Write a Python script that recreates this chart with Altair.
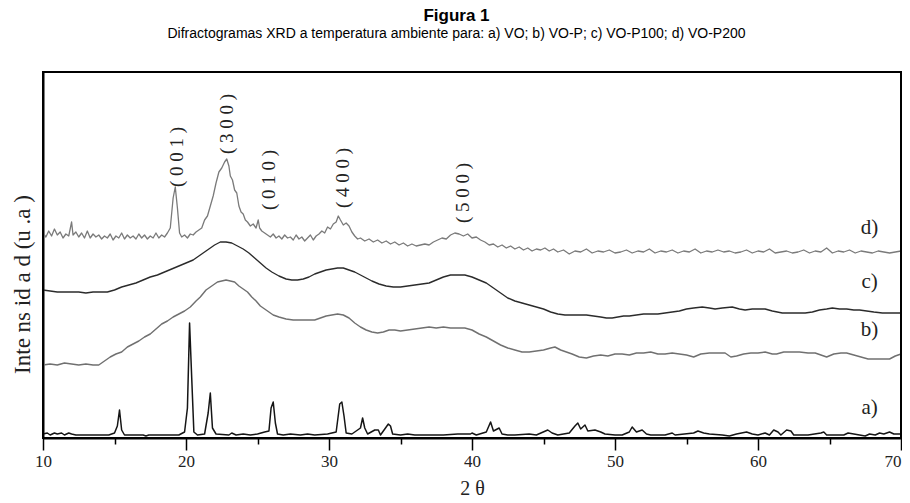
import altair as alt
import pandas as pd

# ---- data (2θ, intensity in arbitrary units) ----
a_x = [10.0, 10.3, 10.5, 10.8, 11.0, 11.3, 11.5, 11.8, 12.0, 12.3, 14.6, 15.0, 15.2, 15.35, 15.5, 15.7,
       17.0, 17.2, 17.4, 19.5, 19.9, 20.1, 20.25, 20.4, 20.55, 20.8, 21.3, 21.55, 21.7, 21.85, 22.1,
       23.0, 23.2, 23.5, 24.0, 24.5, 25.0, 25.5, 25.8, 25.95, 26.1, 26.25, 26.4, 26.8, 27.3, 28.0, 28.5,
       29.0, 29.9, 30.5, 30.75, 30.9, 31.05, 31.2, 31.6, 32.2, 32.35, 32.5, 32.7, 33.2, 33.45, 33.6,
       34.0, 34.15, 34.3, 34.45, 35.0, 35.5, 36.0, 37.0, 38.0, 39.0, 39.9, 40.0, 40.3, 41.0, 41.3, 41.5,
       41.9, 42.1, 42.5, 43.0, 44.0, 44.5, 45.3, 45.6, 46.0, 46.8, 47.2, 47.4, 47.6, 47.9, 48.1, 48.6,
       49.0, 49.3, 50.0, 50.5, 51.0, 51.2, 51.5, 51.9, 52.2, 52.5, 53.5, 54.0, 54.2, 55.5, 55.8, 56.2,
       56.6, 57.5, 58.0, 58.5, 59.2, 59.6, 60.0, 60.5, 60.8, 61.1, 61.4, 61.6, 62.0, 62.3, 62.5, 63.5,
       64.4, 64.6, 64.8, 66.0, 66.3, 66.7, 67.5, 67.8, 68.2, 68.5, 68.8, 69.2, 69.5, 70.0]
a_y = [4, 5, 3, 5, 4, 5, 3, 5, 4, 3, 3, 5, 12, 28, 8, 3,
       3, 2, 3, 3, 6, 30, 115, 60, 6, 3, 4, 25, 45, 10, 4,
       3, 5, 3, 4, 3, 4, 6, 7, 30, 36, 15, 4, 3, 4, 3, 4,
       3, 4, 6, 34, 36, 22, 5, 4, 10, 20, 10, 4, 8, 8, 3,
       11, 14, 12, 4, 3, 4, 3, 3, 3, 4, 4, 5, 3, 6, 16, 7,
       10, 4, 3, 3, 4, 3, 8, 5, 3, 5, 12, 15, 9, 13, 7, 8,
       6, 4, 3, 3, 6, 11, 6, 8, 4, 3, 3, 5, 3, 5, 7, 5,
       4, 3, 2, 4, 6, 4, 3, 5, 3, 8, 6, 3, 8, 7, 3, 3,
       5, 6, 3, 3, 5, 4, 2, 4, 3, 5, 4, 6, 4, 4]

b_x = [10.0, 10.5, 11.0, 11.5, 12.0, 12.5, 13.0, 13.5, 13.9, 14.3, 14.7, 15.1, 15.5, 15.9, 16.3, 16.7,
       17.1, 17.5, 17.9, 18.3, 18.7, 19.1, 19.5, 19.9, 20.3, 20.7, 21.0, 21.4, 21.8, 22.2, 22.5, 22.8,
       23.1, 23.4, 23.7, 24.0, 24.3, 24.6, 24.9, 25.2, 25.5, 25.8, 26.1, 26.5, 27.0, 27.5, 28.0, 28.5,
       29.0, 29.4, 29.8, 30.2, 30.6, 31.0, 31.4, 31.8, 32.2, 32.6, 33.0, 33.4, 33.8, 34.2, 34.6, 35.0,
       35.5, 36.0, 36.5, 37.0, 37.5, 38.0, 38.5, 39.0, 39.5, 40.0, 40.5, 41.0, 41.5, 42.0, 42.5, 43.0,
       43.5, 44.0, 44.5, 45.0, 45.5, 45.8, 46.2, 46.6, 47.0, 47.5, 48.0, 48.5, 49.0, 49.5, 50.0, 50.5,
       51.0, 51.5, 52.0, 52.5, 53.0, 53.5, 54.0, 54.5, 55.0, 55.5, 56.0, 56.6, 57.2, 57.7, 58.1, 58.5,
       59.0, 59.5, 60.0, 60.5, 61.0, 61.3, 61.8, 62.4, 62.9, 63.5, 64.0, 64.4, 64.8, 65.3, 65.8, 66.2,
       66.7, 67.2, 67.7, 68.2, 68.7, 69.2, 69.6, 70.0]
b_y = [73, 74, 73, 75, 74, 73, 74, 73, 73, 77, 81, 84, 86, 91, 94, 97,
       101, 104, 109, 114, 117, 121, 124, 127, 131, 137, 141, 148, 152, 156, 157, 158,
       157, 156, 152, 149, 146, 141, 137, 132, 129, 126, 123, 121, 119, 118, 118, 118,
       118, 120, 122, 123, 124, 123, 120, 115, 111, 108, 106, 105, 106, 108, 108, 107,
       108, 109, 110, 111, 110, 111, 110, 110, 110, 108, 104, 101, 97, 93, 90, 88,
       86, 86, 87, 88, 90, 91, 88, 86, 84, 81, 80, 82, 83, 82, 84, 84,
       83, 85, 85, 86, 84, 84, 85, 84, 83, 81, 84, 85, 85, 85, 81, 82,
       84, 85, 85, 86, 84, 84, 86, 86, 86, 85, 85, 83, 81, 84, 85, 85,
       83, 81, 79, 79, 79, 79, 82, 84]

c_x = [10.0, 10.5, 11.0, 11.5, 12.0, 12.5, 13.0, 13.5, 14.0, 14.5, 15.0, 15.5, 16.0, 16.5, 17.0, 17.5,
       18.0, 18.5, 19.0, 19.5, 20.0, 20.5, 21.0, 21.5, 22.0, 22.4, 22.8, 23.2, 23.6, 24.0, 24.4, 24.8,
       25.2, 25.6, 26.0, 26.5, 27.0, 27.4, 27.8, 28.2, 28.6, 29.0, 29.4, 29.8, 30.2, 30.6, 31.0, 31.4,
       31.8, 32.2, 32.6, 33.0, 33.5, 34.0, 34.5, 35.0, 35.5, 36.0, 36.5, 37.0, 37.5, 38.0, 38.5, 39.0,
       39.5, 40.0, 40.5, 41.0, 41.5, 42.0, 42.5, 43.0, 43.5, 44.0, 44.5, 45.0, 45.5, 46.0, 46.5, 47.0,
       47.5, 48.0, 48.5, 49.0, 49.4, 49.8, 50.2, 50.6, 51.0, 51.5, 52.0, 52.5, 53.0, 53.5, 54.0, 54.5,
       55.0, 55.5, 56.1, 56.6, 57.0, 57.5, 58.2, 58.7, 59.1, 59.6, 60.1, 60.5, 61.0, 61.7, 62.3, 62.8,
       63.3, 63.8, 64.3, 64.8, 65.2, 65.7, 66.2, 66.7, 67.1, 67.6, 68.1, 68.7, 69.3, 70.0]
c_y = [148, 147, 146, 146, 146, 146, 145, 146, 146, 146, 148, 151, 153, 155, 158, 161,
       163, 166, 169, 172, 175, 178, 183, 188, 193, 196, 196, 195, 192, 189, 185, 180,
       175, 170, 166, 162, 159, 158, 158, 159, 161, 164, 166, 168, 169, 170, 170, 168,
       166, 163, 160, 157, 154, 152, 151, 151, 152, 153, 154, 155, 158, 161, 163, 163,
       163, 161, 158, 155, 150, 145, 140, 137, 135, 133, 131, 129, 126, 124, 123, 123,
       123, 123, 122, 121, 120, 120, 121, 122, 122, 123, 124, 124, 124, 125, 126, 127,
       129, 130, 131, 130, 129, 130, 131, 129, 128, 129, 129, 129, 127, 125, 125, 125,
       125, 126, 128, 129, 130, 129, 129, 128, 128, 127, 126, 125, 125, 125]

d_x = [10.0, 10.2, 10.4, 10.6, 10.8, 11.0, 11.2, 11.4, 11.6, 11.8, 12.0, 12.1, 12.3, 12.5, 12.7, 12.9,
       13.1, 13.3, 13.5, 13.7, 13.9, 14.1, 14.3, 14.5, 14.7, 14.9, 15.1, 15.3, 15.5, 15.7, 15.9, 16.1,
       16.3, 16.5, 16.7, 16.9, 17.1, 17.3, 17.5, 17.7, 17.9, 18.1, 18.3, 18.5, 18.7, 18.9, 19.1, 19.25,
       19.4, 19.55, 19.7, 19.9, 20.1, 20.3, 20.5, 20.7, 20.9, 21.1, 21.3, 21.5, 21.7, 21.9, 22.1, 22.3,
       22.5, 22.7, 22.85, 23.0, 23.1, 23.25, 23.4, 23.55, 23.7, 23.85, 24.0, 24.15, 24.3, 24.5, 24.7, 24.9,
       25.05, 25.15, 25.3, 25.5, 25.7, 25.9, 26.1, 26.3, 26.5, 26.7, 26.9, 27.1, 27.3, 27.5, 27.7, 27.9,
       28.1, 28.3, 28.5, 28.7, 28.9, 29.1, 29.3, 29.5, 29.7, 29.9, 30.1, 30.3, 30.5, 30.65, 30.8, 31.0,
       31.2, 31.4, 31.6, 31.8, 32.0, 32.2, 32.5, 32.8, 33.1, 33.4, 33.7, 34.0, 34.3, 34.6, 34.9, 35.2,
       35.5, 35.8, 36.1, 36.4, 36.7, 37.0, 37.3, 37.6, 37.9, 38.2, 38.5, 38.8, 39.1, 39.4, 39.7, 40.0,
       40.3, 40.6, 40.9, 41.2, 41.5, 41.8, 42.1, 42.4, 42.7, 43.0, 43.3, 43.6, 43.9, 44.2, 44.5, 44.8,
       45.1, 45.4, 45.7, 46.0, 46.4, 46.8, 47.2, 47.6, 48.0, 48.4, 48.8, 49.2, 49.6, 50.0, 50.4, 50.8,
       51.2, 51.6, 52.0, 52.4, 52.8, 53.2, 53.6, 54.0, 54.4, 54.8, 55.2, 55.6, 56.0, 56.4, 56.8, 57.2,
       57.6, 58.0, 58.4, 58.8, 59.2, 59.6, 60.0, 60.4, 60.8, 61.2, 61.6, 62.0, 62.4, 62.8, 63.2, 63.6,
       64.0, 64.4, 64.8, 65.2, 65.6, 66.0, 66.4, 66.8, 67.2, 67.6, 68.0, 68.4, 68.8, 69.2, 69.6, 70.0]
d_y = [205, 201, 207, 202, 209, 203, 206, 200, 204, 202, 216, 203, 206, 201, 205, 200,
       207, 200, 204, 201, 203, 199, 202, 200, 204, 198, 202, 200, 205, 199, 203, 200,
       202, 199, 204, 200, 203, 199, 202, 200, 205, 200, 203, 201, 205, 210, 240, 251,
       230, 205, 201, 203, 200, 204, 203, 206, 208, 210, 218, 222, 232, 242, 255, 266,
       270, 276, 279, 272, 262, 258, 248, 245, 232, 226, 224, 218, 216, 212, 214, 210,
       218, 210, 207, 205, 203, 201, 204, 200, 202, 199, 203, 200, 201, 198, 203, 199,
       201, 197, 200, 203, 198, 202, 204, 207, 205, 211, 209, 214, 216, 222, 218, 213,
       215, 212, 206, 202, 199, 200, 197, 199, 196, 198, 195, 197, 194, 196, 193, 195,
       192, 194, 192, 193, 194, 193, 196, 198, 200, 199, 203, 205, 204, 202, 204, 200,
       201, 198, 196, 193, 194, 191, 193, 190, 192, 189, 191, 188, 190, 187, 189, 188,
       190, 187, 189, 186, 188, 184, 187, 186, 189, 185, 187, 186, 188, 185, 186, 188,
       185, 187, 186, 189, 185, 187, 186, 188, 185, 187, 186, 189, 185, 187, 186, 188,
       186, 187, 185, 186, 188, 185, 187, 186, 189, 185, 186, 187, 185, 186, 188, 185,
       187, 186, 190, 185, 187, 186, 188, 185, 187, 186, 185, 187, 186, 185, 186, 187]

series_names = ["a) VO", "b) VO-P", "c) VO-P100", "d) VO-P200"]
series_colors = ["#151515", "#707070", "#2b2b2b", "#7a7a7a"]
series_widths = [1.5, 1.3, 1.5, 1.2]

curve_labels = ["a)", "b)", "c)", "d)"]
curve_label_x = [67.8, 67.8, 67.8, 67.8]
curve_label_y = [30, 108, 156, 210]

peak_labels = ["( 0 0 1 )", "( 3 0 0 )", "( 0 1 0 )", "( 4 0 0 )", "( 5 0 0 )"]
peak_x = [19.4, 22.9, 25.8, 31.0, 39.4]
peak_y = [281, 314, 258, 260, 245]

# axis ranges (also the plot frame)
x_min, x_max = 10, 70
y_min, y_max = 0, 366

# ---- build tables ----
rows = []
for name, xs, ys in zip(series_names, [a_x, b_x, c_x, d_x], [a_y, b_y, c_y, d_y]):
    for xv, yv in zip(xs, ys):
        rows.append({"t": xv, "i": yv, "s": name})
df = pd.DataFrame(rows)

lab_df = pd.DataFrame({"t": curve_label_x, "i": curve_label_y, "txt": curve_labels})
peak_df = pd.DataFrame({"t": peak_x, "i": peak_y, "txt": peak_labels})
frame_df = pd.DataFrame({"t": [x_min], "t2": [x_max], "i": [y_min], "i2": [y_max]})

W, H = 858, 366
x_scale = alt.Scale(domain=[x_min, x_max], nice=False, zero=False)
y_scale = alt.Scale(domain=[y_min, y_max], nice=False, zero=False)

serif = "Liberation Serif"
sans = "Liberation Sans"

x_axis = alt.Axis(
    values=list(range(10, 71, 5)),
    labelExpr="datum.value % 10 === 0 ? datum.label : ''",
    tickSize={"condition": {"test": "datum.value % 10 === 0", "value": 12}, "value": 6},
    labelAlign={"condition": {"test": "datum.value === 70", "value": "right"}, "value": "center"},
    tickColor="black", tickWidth=1.5,
    domainColor="black", domainWidth=2,
    labelFont=serif, labelFontSize=17, labelColor="#222", labelPadding=3,
    labelFlush=False, labelOverlap=False,
    grid=False,
    title="2 θ", titleFont=serif, titleFontSize=20, titleFontWeight="normal",
    titleColor="#222", titleY=50, titleBaseline="middle",
)
y_axis = alt.Axis(
    labels=False, ticks=False, grid=False,
    domainColor="black", domainWidth=2,
    title="Inte ns id a d  (u .a )", titleFont=serif, titleFontSize=23, titleFontWeight="normal",
    titleColor="#222", titleAngle=270, titleX=-21, titleY=212,
    titleAlign="center", titleBaseline="middle",
)

lines = alt.Chart(df).mark_line(strokeJoin="round").encode(
    x=alt.X("t:Q", scale=x_scale, axis=x_axis),
    y=alt.Y("i:Q", scale=y_scale, axis=y_axis),
    color=alt.Color("s:N", scale=alt.Scale(domain=series_names, range=series_colors), legend=None),
    strokeWidth=alt.StrokeWidth("s:N", scale=alt.Scale(domain=series_names, range=series_widths), legend=None),
    detail="s:N",
)

frame = alt.Chart(frame_df).mark_rect(filled=False, stroke="black", strokeWidth=2).encode(
    x=alt.X("t:Q", scale=x_scale, axis=None),
    x2="t2:Q",
    y=alt.Y("i:Q", scale=y_scale, axis=None),
    y2="i2:Q",
)

curve_text = alt.Chart(lab_df).mark_text(font=serif, fontSize=21, color="#222", align="center", baseline="middle").encode(
    x=alt.X("t:Q", scale=x_scale, axis=None),
    y=alt.Y("i:Q", scale=y_scale, axis=None),
    text="txt:N",
)

peak_text = alt.Chart(peak_df).mark_text(font=serif, fontSize=19, color="#222", align="center",
                                         baseline="middle", angle=270).encode(
    x=alt.X("t:Q", scale=x_scale, axis=None),
    y=alt.Y("i:Q", scale=y_scale, axis=None),
    text="txt:N",
)

chart = alt.layer(lines, frame, curve_text, peak_text).resolve_scale(
    x="independent", y="independent"
).properties(
    width=W,
    height=H,
    background="white",
    autosize=alt.AutoSizeParams(type="none"),
    padding={"left": 35, "top": 64, "right": 1, "bottom": 62},
    title=alt.TitleParams(
        text="Figura 1",
        subtitle="Difractogramas XRD a temperatura ambiente para: a) VO; b) VO-P; c) VO-P100; d) VO-P200",
        font=sans, fontSize=17, fontWeight="bold", color="black",
        subtitleFont=sans, subtitleFontSize=14, subtitleColor="black", subtitlePadding=2,
        anchor="middle", frame="bounds", offset=29,
    ),
).configure_view(stroke="black", strokeWidth=2)

chart.save("out.html", embed_options={"renderer": "svg", "actions": False})
